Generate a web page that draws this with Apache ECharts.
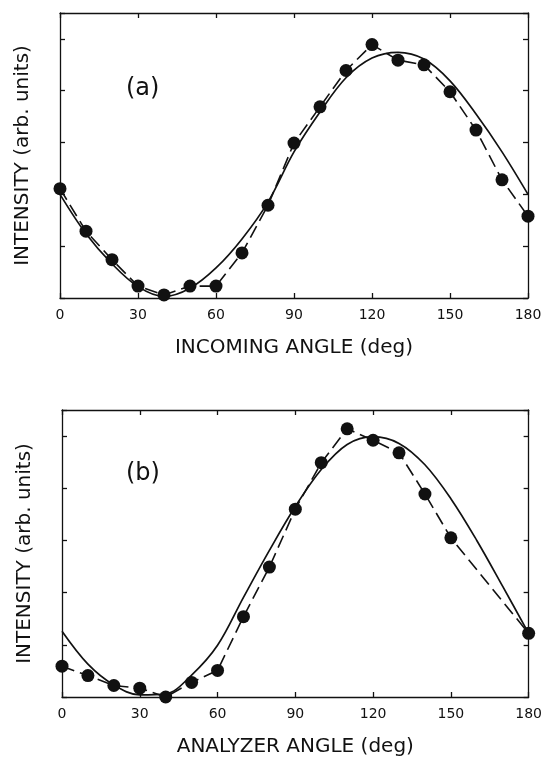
<!DOCTYPE html>
<html>
<head>
<meta charset="utf-8">
<script src="https://cdn.jsdelivr.net/npm/echarts@6/dist/echarts.min.js"></script>
<style>
  html, body { margin: 0; padding: 0; background: #fff; }
  #chart { width: 545px; height: 759px; }
</style>
</head>
<body>
<div id="chart"></div>
<script>
// panel (a): incoming angle scan
const anglesA = [0, 10, 20, 30, 40, 50, 60, 70, 80, 90, 100, 110, 120, 130, 140, 150, 160, 170, 180]
const measuredA = [2.11, 1.29, 0.74, 0.23, 0.06, 0.23, 0.23, 0.87, 1.79, 2.99, 3.69, 4.39, 4.89, 4.59, 4.50, 3.98, 3.24, 2.28, 1.58]
const fitA = [2.0, 1.24, 0.66, 0.22, 0.03, 0.19, 0.58, 1.14, 1.85, 2.82, 3.59, 4.25, 4.63, 4.74, 4.61, 4.19, 3.55, 2.82, 2.0]

// panel (b): analyzer angle scan (no points at 160, 170)
const anglesB = [0, 10, 20, 30, 40, 50, 60, 70, 80, 90, 100, 110, 120, 130, 140, 150, 180]
const measuredB = [0.59, 0.41, 0.22, 0.17, 0.0, 0.28, 0.51, 1.54, 2.49, 3.60, 4.49, 5.14, 4.92, 4.68, 3.89, 3.05, 1.22]
const fitAnglesB = [0, 10, 20, 30, 40, 50, 60, 70, 80, 90, 100, 110, 120, 130, 140, 150, 160, 170, 180]
const fitB = [1.26, 0.63, 0.23, 0.04, 0.06, 0.42, 0.99, 1.91, 2.81, 3.65, 4.36, 4.84, 4.99, 4.86, 4.45, 3.80, 3.00, 2.12, 1.22]

const xTicks = [0, 30, 60, 90, 120, 150, 180]

const pairs = (xs, ys) => xs.map((x, i) => [x, ys[i]])

const font = 'DejaVu Sans'
const ink = '#111'

const xAxisBase = (grid, pos, name) => ({
  type: 'value',
  gridIndex: grid,
  position: pos,
  min: 0,
  max: 180,
  interval: 30,
  axisLine: { show: true, onZero: false, lineStyle: { color: ink, width: 1.3 } },
  axisTick: { show: true, inside: true, length: 5, lineStyle: { color: ink, width: 1.3 } },
  axisLabel: {
    show: pos === 'bottom',
    color: ink,
    fontFamily: font,
    fontSize: 14,
    margin: 10,
    formatter: v => (xTicks.includes(v) ? String(v) : '')
  },
  splitLine: { show: false },
  name: name,
  nameLocation: 'middle',
  nameGap: 40,
  nameTextStyle: { color: ink, fontFamily: font, fontSize: 20 }
})

const yAxisBase = (grid, pos, name) => ({
  type: 'value',
  gridIndex: grid,
  position: pos,
  min: 0,
  max: 5.5,
  interval: 1,
  axisLine: { show: true, onZero: false, lineStyle: { color: ink, width: 1.3 } },
  axisTick: { show: true, inside: true, length: 5, lineStyle: { color: ink, width: 1.3 } },
  axisLabel: { show: false },
  splitLine: { show: false },
  name: name,
  nameLocation: 'middle',
  nameGap: 27,
  nameTextStyle: { color: ink, fontFamily: font, fontSize: 20 }
})

const yName = 'INTENSITY (arb. units)'

const dataSeries = (idx, xs, ys) => ({
  type: 'line',
  xAxisIndex: idx,
  yAxisIndex: idx,
  data: pairs(xs, ys),
  symbol: 'circle',
  symbolSize: 13,
  showSymbol: true,
  clip: false,
  itemStyle: { color: ink },
  lineStyle: { color: ink, width: 1.6, type: [13, 6] },
  animation: false
})

const fitSeries = (idx, xs, ys) => ({
  type: 'line',
  xAxisIndex: idx,
  yAxisIndex: idx,
  data: pairs(xs, ys),
  smooth: 0.35,
  symbol: 'none',
  clip: false,
  lineStyle: { color: ink, width: 1.7 },
  animation: false
})

const myChart = echarts.init(document.getElementById('chart'))
const option = {
  backgroundColor: '#fff',
  animation: false,
  grid: [
    { left: 60, right: 17, top: 13, height: 285 },
    { left: 62, right: 13, top: 410, height: 287 }
  ],
  xAxis: [
    xAxisBase(0, 'bottom', 'INCOMING ANGLE (deg)'),
    xAxisBase(0, 'top', ''),
    xAxisBase(1, 'bottom', 'ANALYZER ANGLE (deg)'),
    xAxisBase(1, 'top', '')
  ],
  yAxis: [
    yAxisBase(0, 'left', yName),
    yAxisBase(0, 'right', ''),
    yAxisBase(1, 'left', yName),
    yAxisBase(1, 'right', '')
  ],
  graphic: [
    { type: 'text', left: 126, top: 77, style: { text: '(a)', font: '24px "DejaVu Sans"', fill: ink } },
    { type: 'text', left: 126, top: 462, style: { text: '(b)', font: '24px "DejaVu Sans"', fill: ink } }
  ],
  series: [
    fitSeries(0, anglesA, fitA),
    dataSeries(0, anglesA, measuredA),
    fitSeries(2, fitAnglesB, fitB),
    dataSeries(2, anglesB, measuredB)
  ]
}
myChart.setOption(option)

window.addEventListener('resize', () => {
  myChart.resize()
})
</script>
</body>
</html>
